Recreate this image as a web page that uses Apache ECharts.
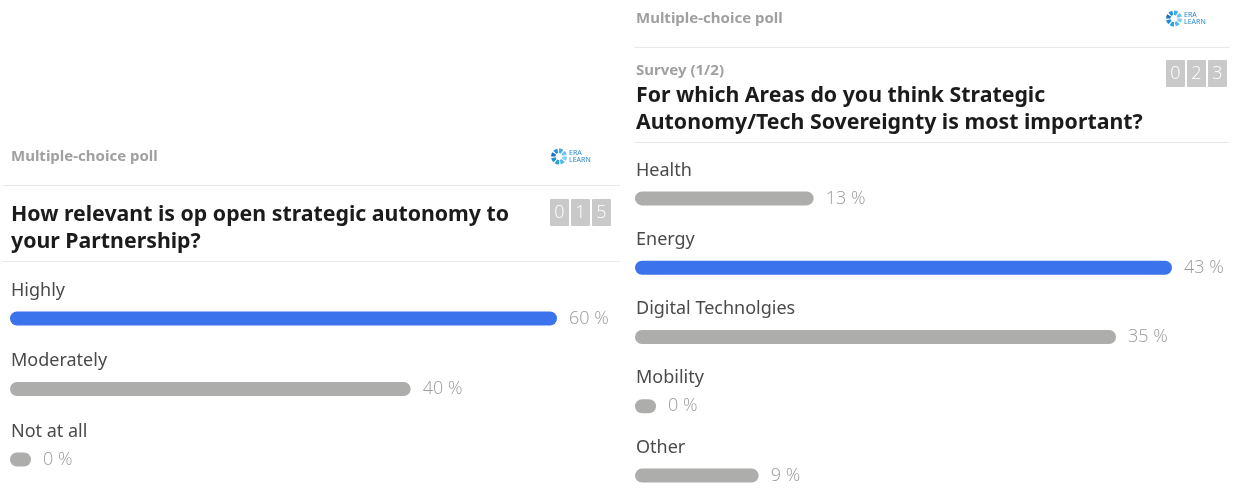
<!DOCTYPE html>
<html><head><meta charset="utf-8">
<script src="https://cdn.jsdelivr.net/npm/echarts@6/dist/echarts.min.js"></script>
<style>html,body{margin:0;padding:0;background:#fff}#c{width:1234px;height:490px}</style>
</head><body><div id="c"></div>
<script>
// ---- data ----
const leftCategories = ['Highly', 'Moderately', 'Not at all'];
const leftValues = [60, 40, 0];
const leftTitleLines = ['How relevant is op open strategic autonomy to', 'your Partnership?'];
const leftCount = ['0', '1', '5'];

const rightCategories = ['Health', 'Energy', 'Digital Technolgies', 'Mobility', 'Other'];
const rightValues = [13, 43, 35, 0, 9];
const rightTitleLines = ['For which Areas do you think Strategic', 'Autonomy/Tech Sovereignty is most important?'];
const rightCount = ['0', '2', '3'];
const rightSubtitle = 'Survey (1/2)';

const headerText = 'Multiple-choice poll';
const logoLines = ['ERA', 'LEARN'];

// ---- styles ----
const BLUE = '#3a73ec', GREY_BAR = '#adadac', LABEL = '#4a4a4a', PCT = '#9b9b9b';
const LINE = '#e7e9f0', HEAD = '#a0a0a0', TITLE = '#1b1b1b', BOX = '#c9c9c9';
const FONT = '"Noto Sans", "Open Sans", sans-serif';
const THIN = '"Open Sans", "Noto Sans", sans-serif';

const grids = [], xAxes = [], yAxes = [], series = [], graphics = [];

function addPanel(p) {
  const n = p.categories.length;
  const maxVal = Math.max.apply(null, p.values);
  const maxIdx = p.values.indexOf(maxVal);
  const top = p.firstCenter - p.band / 2;
  const barCommon = {
    type: 'bar', barWidth: 14, barMinHeight: 21, silent: true, animation: false,
    label: { show: true, position: 'right', distance: 12, formatter: q => q.value + ' %',
      color: PCT, fontSize: 18, fontFamily: THIN, fontWeight: 300 }
  };
  // main grid: all rows except the leading answer
  let gi = grids.length;
  grids.push({ left: p.x0, top: top, width: p.W, height: p.band * n, outerBoundsMode: 'none', containLabel: false });
  xAxes.push({ gridIndex: gi, type: 'value', min: 0, max: maxVal, show: false });
  yAxes.push({ gridIndex: gi, type: 'category', inverse: true, data: p.categories,
    axisLine: { show: false }, axisTick: { show: false },
    axisLabel: { inside: true, interval: 0, margin: 1, align: 'left', verticalAlign: 'middle',
      formatter: v => v + '\n ', lineHeight: p.labelLift * 2,
      color: LABEL, fontSize: 18, fontFamily: FONT } });
  series.push(Object.assign({}, barCommon, { xAxisIndex: gi, yAxisIndex: gi,
    itemStyle: { borderRadius: 7, color: GREY_BAR },
    data: p.values.map((v, i) => i === maxIdx ? '-' : v) }));
  // leading row: bar is shrunk so that its percent label fits
  gi = grids.length;
  grids.push({ left: p.x0, top: top + maxIdx * p.band, width: p.W - p.labelSpace, height: p.band,
    outerBoundsMode: 'none', containLabel: false });
  xAxes.push({ gridIndex: gi, type: 'value', min: 0, max: maxVal, show: false });
  yAxes.push({ gridIndex: gi, type: 'category', inverse: true, data: [p.categories[maxIdx]], show: false });
  series.push(Object.assign({}, barCommon, { xAxisIndex: gi, yAxisIndex: gi,
    itemStyle: { borderRadius: 7, color: BLUE }, data: [maxVal] }));

  // header
  graphics.push({ type: 'text', x: p.x0 + 1, y: p.headY, silent: true,
    style: { text: headerText, fill: HEAD, font: 'bold 15px ' + FONT, verticalAlign: 'middle' } });
  // logo
  const cx = p.logoX, cy = p.headY;
  const blades = ['#7fd0f2', '#4fb9ea', '#2aa2df', '#1e8bd3', '#1774c4', '#2a8fd6', '#43abe6', '#6cc6f0'];
  blades.forEach((c, k) => {
    const a0 = k * Math.PI / 4;
    graphics.push({ type: 'sector', silent: true,
      shape: { cx: cx, cy: cy, r0: 3.5, r: 8, startAngle: a0, endAngle: a0 + Math.PI / 5.5 },
      style: { fill: c } });
  });
  graphics.push({ type: 'text', x: cx + 10, y: cy - 4, silent: true,
    style: { text: logoLines[0], fill: '#2a86cc', font: '7px "Liberation Sans Narrow", ' + FONT, verticalAlign: 'middle' } });
  graphics.push({ type: 'text', x: cx + 10, y: cy + 3.5, silent: true,
    style: { text: logoLines[1], fill: '#2a86cc', font: '7px "Liberation Sans Narrow", ' + FONT, verticalAlign: 'middle' } });
  // dividers
  p.dividers.forEach(y => graphics.push({ type: 'line', silent: true,
    shape: { x1: p.lineX1, y1: y, x2: p.lineX2, y2: y }, style: { stroke: LINE, lineWidth: 1 } }));
  // subtitle
  if (p.subtitle) graphics.push({ type: 'text', x: p.x0 + 1, y: p.subY, silent: true,
    style: { text: p.subtitle, fill: HEAD, font: 'bold 15px ' + FONT, verticalAlign: 'middle' } });
  // title
  p.titleLines.forEach((t, k) => graphics.push({ type: 'text', x: p.x0 + 1, y: p.titleY + k * 27, silent: true,
    style: { text: t, fill: TITLE, font: 'bold 21.3px ' + FONT, verticalAlign: 'middle' } }));
  // counter
  p.count.forEach((d, k) => {
    graphics.push({ type: 'rect', silent: true,
      shape: { x: p.boxX + k * 21, y: p.boxY, width: 19, height: 27, r: 1 }, style: { fill: BOX } });
    graphics.push({ type: 'text', silent: true, x: p.boxX + k * 21 + 9.5, y: p.boxY + 14,
      style: { text: d, fill: '#ffffff', font: '300 18px ' + THIN, align: 'center', verticalAlign: 'middle' } });
  });
}

addPanel({ categories: leftCategories, values: leftValues, titleLines: leftTitleLines, count: leftCount,
  x0: 10, W: 601, labelSpace: 54, firstCenter: 318.5, band: 70.5, labelLift: 28,
  headY: 156.5, logoX: 559, dividers: [185.5, 261.5], lineX1: 2, lineX2: 620,
  titleY: 214.5, boxX: 550, boxY: 199 });
addPanel({ categories: rightCategories, values: rightValues, titleLines: rightTitleLines, count: rightCount,
  subtitle: rightSubtitle, subY: 70.5,
  x0: 635, W: 591, labelSpace: 54, firstCenter: 198.4, band: 69.3, labelLift: 28,
  headY: 18.5, logoX: 1174, dividers: [47.5, 142.5], lineX1: 634, lineX2: 1230,
  titleY: 96, boxX: 1166, boxY: 60 });

const chart = echarts.init(document.getElementById('c'), null, { renderer: 'canvas' });
chart.setOption({
  backgroundColor: '#ffffff', animation: false,
  grid: grids, xAxis: xAxes, yAxis: yAxes, series: series, graphic: graphics
});
</script></body></html>
